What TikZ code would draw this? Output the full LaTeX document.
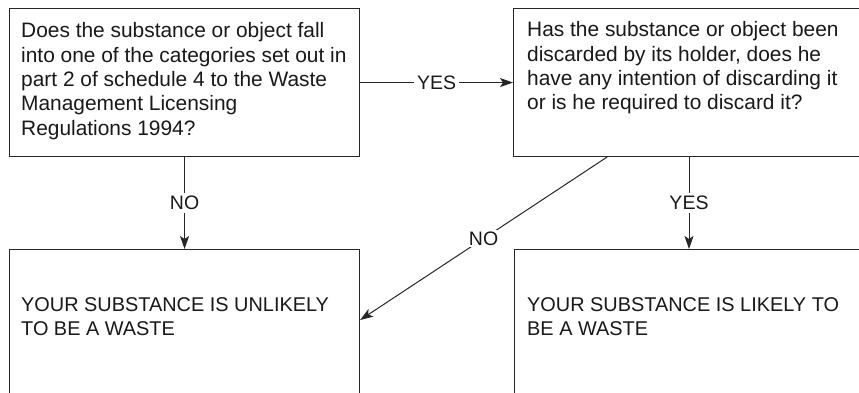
\documentclass[tikz,border=0pt]{standalone}
\usepackage{fontspec}
\setmainfont{Liberation Sans}
\usetikzlibrary{calc,arrows.meta}
\begin{document}
\begin{tikzpicture}[x=1pt,y=-1pt,
  box/.style={draw=black!85,line width=1.1pt,rectangle,inner sep=0pt,minimum width=350pt,minimum height=148pt,anchor=north west},
  txt/.style={inner sep=0pt,anchor=north west,align=left,font=\fontsize{20.9}{24.3}\selectfont,text=black!90},
  capstxt/.style={txt,font=\fontsize{19.9}{24.5}\selectfont},
  lab/.style={fill=white,inner sep=3pt,font=\fontsize{19.5}{22}\selectfont,text=black!90},
  arr/.style={draw=black!85,line width=1pt,-{Stealth[length=13pt,width=9pt,inset=3pt]}},
  ln/.style={draw=black!85,line width=1pt}]
\useasboundingbox (0,0) rectangle (859,393);
\clip (0,0) rectangle (859,393);
\fill[white] (0,0) rectangle (859,393);
\node[box] (q1) at (9,8) {};
\node[box] (q2) at (513,8) {};
\node[box] (r1) at (9,249) {};
\node[box] (r2) at (514,249) {};
\node[txt] (t1) at (21,22.5) {Does the substance or object fall\\into one of the categories set out in\\part 2 of schedule 4 to the Waste\\Management Licensing\\Regulations 1994?};
\node[txt] (t2) at (527,21.5) {Has the substance or object been\\discarded by its holder, does he\\have any intention of discarding it\\or is he required to discard it?};
\node[capstxt] (t3) at (21,297) {YOUR SUBSTANCE IS UNLIKELY\\TO BE A WASTE};
\node[capstxt] (t4) at (527,297) {YOUR SUBSTANCE IS LIKELY TO\\BE A WASTE};
\draw[arr] (q1.east) -- node[lab] (l1) {YES} (q2.west);
\draw[arr] (q1.south) -- node[lab,pos=0.5] (l2) {NO} (r1.north);
\coordinate (q2s) at ($(q2.south west)+(176,0)$);
\coordinate (r2n) at ($(r2.north west)+(175,0)$);
\draw[arr] (q2s) -- node[lab,pos=0.5] (l3) {YES} (r2n);
\coordinate (q2d) at ($(q2.south west)+(94,0)$);
\coordinate (r1e) at ($(r1.north east)+(0,71)$);
\draw[arr] (q2d) -- node[lab,pos=0.5,inner sep=2pt] (l4) {NO} (r1e);
\end{tikzpicture}
\end{document}
